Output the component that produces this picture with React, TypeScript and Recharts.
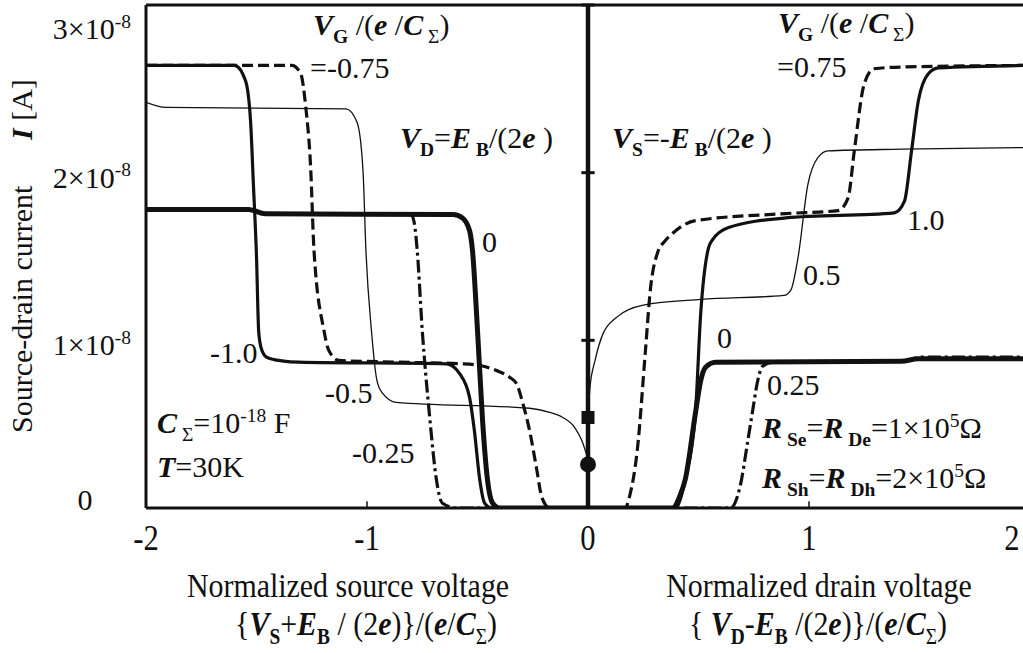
import React from 'react';
import { ComposedChart, Line, Scatter, XAxis, YAxis, ReferenceLine } from 'recharts';

type Pt = [number, number];

// x: normalized voltage, y: source-drain current in units of 1e-8 A
// left half: source voltage sweep, right half: drain voltage sweep
const vgMinus100: Pt[] = [[-2, 2.64], [-1.6, 2.64], [-1.55, 2.55], [-1.527, 2.31], [-1.514, 1.93], [-1.5, 1.5], [-1.49, 1.05], [-1.478, 0.95], [-1.455, 0.9], [-1.42, 0.885], [-1.386, 0.878], [-1.31, 0.87], [-0.64, 0.86], [-0.58, 0.8], [-0.536, 0.66], [-0.514, 0.46], [-0.49, 0.17], [-0.468, 0.03], [-0.436, 0], [0, 0]];
const vgMinus075: Pt[] = [[-2, 2.64], [-1.34, 2.64], [-1.3, 2.59], [-1.277, 2.39], [-1.255, 2.03], [-1.24, 1.54], [-1.195, 1.06], [-1.173, 0.94], [-1.127, 0.88], [-0.855, 0.87], [-0.568, 0.86], [-0.49, 0.85], [-0.414, 0.82], [-0.355, 0.78], [-0.323, 0.74], [-0.295, 0.625], [-0.264, 0.46], [-0.232, 0.23], [-0.209, 0.065], [-0.173, 0], [0, 0]];
const vgMinus050: Pt[] = [[-2, 2.42], [-1.91, 2.39], [-1.095, 2.38], [-1.045, 2.3], [-1.018, 2.01], [-1.005, 1.54], [-0.98, 1.06], [-0.955, 0.76], [-0.93, 0.685], [-0.868, 0.63], [-0.264, 0.595], [-0.173, 0.57], [-0.114, 0.54], [-0.06, 0.48], [-0.027, 0.4], [0, 0.29]];
const vgMinus025: Pt[] = [[-2, 1.78], [-1.536, 1.78], [-1.46, 1.755], [-0.8, 1.75], [-0.786, 1.7], [-0.773, 1.54], [-0.75, 1.06], [-0.718, 0.565], [-0.686, 0.17], [-0.66, 0.03], [-0.595, 0], [0, 0]];
const vgZeroLeft: Pt[] = [[-2, 1.78], [-1.536, 1.78], [-1.46, 1.755], [-0.61, 1.75], [-0.568, 1.73], [-0.536, 1.655], [-0.523, 1.54], [-0.5, 1.06], [-0.477, 0.52], [-0.455, 0.17], [-0.432, 0.03], [-0.4, 0], [0, 0]];

const vgPlus050: Pt[] = [[0, 0.54], [0.009, 0.72], [0.032, 0.88], [0.068, 1.04], [0.132, 1.14], [0.25, 1.21], [0.51, 1.244], [0.886, 1.268], [0.918, 1.3], [0.95, 1.49], [0.995, 1.93], [1.04, 2.09], [1.086, 2.13], [1.418, 2.14], [2, 2.15]];
const vgPlus075: Pt[] = [[0, 0], [0.168, 0], [0.19, 0.08], [0.223, 0.345], [0.26, 0.94], [0.282, 1.3], [0.314, 1.52], [0.35, 1.595], [0.382, 1.637], [0.486, 1.714], [0.895, 1.756], [1.132, 1.774], [1.177, 1.85], [1.205, 2.13], [1.25, 2.53], [1.295, 2.62], [1.418, 2.63], [2, 2.64]];
const vgPlus100: Pt[] = [[0, 0], [0.395, 0], [0.44, 0.17], [0.486, 0.565], [0.51, 1.16], [0.545, 1.55], [0.564, 1.6], [0.636, 1.673], [0.895, 1.73], [1.386, 1.76], [1.432, 1.83], [1.464, 2.13], [1.495, 2.43], [1.54, 2.59], [1.586, 2.625], [2, 2.64]];
const vgZeroRight: Pt[] = [[0, 0], [0.382, 0], [0.418, 0.08], [0.44, 0.17], [0.486, 0.565], [0.51, 0.76], [0.532, 0.84], [0.577, 0.87], [1.418, 0.875], [1.495, 0.89], [2, 0.89]];
const vgPlus025: Pt[] = [[0, 0], [0.645, 0], [0.69, 0.14], [0.723, 0.4], [0.745, 0.58], [0.768, 0.76], [0.79, 0.845], [0.836, 0.87], [1.418, 0.875], [1.51, 0.9], [2, 0.9]];

const xTicks = [-2, -1, 0, 1, 2];
const yTicks = [0, 1, 2, 3];
const bottomTickMarks = [-1, 1];
const centerTickMarks = [1, 2, 3];
const squareMark = [{ x: 0, y: 0.54 }];
const circleMark = [{ x: 0, y: 0.26 }];

const toRows = (pts: Pt[]) => pts.map(([x, y]) => ({ x, y }));

const serif = '"Liberation Serif", "Times New Roman", serif';

// line styles per gate voltage
const series = [
  { key: 'm050', pts: vgMinus050, width: 1.3, dash: undefined },
  { key: 'p050', pts: vgPlus050, width: 1.3, dash: undefined },
  { key: 'm025', pts: vgMinus025, width: 3.2, dash: '13 4 3 4' },
  { key: 'p025', pts: vgPlus025, width: 3.2, dash: '13 4 3 4' },
  { key: 'm075', pts: vgMinus075, width: 3.2, dash: '11 5' },
  { key: 'p075', pts: vgPlus075, width: 3.2, dash: '11 5' },
  { key: 'm100', pts: vgMinus100, width: 3.2, dash: undefined },
  { key: 'p100', pts: vgPlus100, width: 3.2, dash: undefined },
  { key: 'z0l', pts: vgZeroLeft, width: 5, dash: undefined },
  { key: 'z0r', pts: vgZeroRight, width: 5, dash: undefined },
];

type Kind = 'n' | 'bi' | 'bsub' | 'sub' | 'sup';
type Part = [string, Kind];

const Rich = ({ x, y, parts, size = 30, anchor = 'start', sx = 1, rotate = 0 }: {
  x: number; y: number; parts: Part[]; size?: number; anchor?: string; sx?: number; rotate?: number;
}) => {
  let shift = 0;
  return (
    <text
      transform={`translate(${x},${y}) rotate(${rotate}) scale(${sx},1)`}
      fontSize={size}
      fontFamily={serif}
      textAnchor={anchor as any}
      fill="#111"
      style={{ whiteSpace: 'pre' }}
    >
      {parts.map(([t, k], i) => {
        const target = k === 'sub' || k === 'bsub' ? size * 0.26 : k === 'sup' ? -size * 0.38 : 0;
        const dy = target - shift;
        shift = target;
        const small = k === 'sub' || k === 'bsub' || k === 'sup';
        return (
          <tspan
            key={i}
            dy={dy}
            fontSize={small ? size * 0.65 : size}
            fontWeight={k === 'bi' || k === 'bsub' ? 'bold' : 'normal'}
            fontStyle={k === 'bi' ? 'italic' : 'normal'}
          >
            {t}
          </tspan>
        );
      })}
    </text>
  );
};

const YTick = (props: any) => {
  const { y, payload } = props;
  const v = payload.value;
  if (v === 0) {
    return <text x={85} y={y + 2} textAnchor="middle" fontSize={30} fontFamily={serif} fill="#111">0</text>;
  }
  const dy = v === 3 ? 30 : 15;
  return <Rich x={131} y={y + dy} anchor="end" parts={[[`${v}×10`, 'n'], ['-8', 'sup']]} />;
};

const XTick = (props: any) => {
  const { x, payload } = props;
  const v = payload.value;
  const shift = v === 2 ? -18 : 0;
  return (
    <text transform={`translate(${x + shift},550) scale(0.85,1)`} textAnchor="middle" fontSize={36} fontFamily={serif} fill="#111">
      {`${v}`}
    </text>
  );
};

const vgLabel: Part[] = [['V', 'bi'], ['G', 'bsub'], [' /(', 'n'], ['e', 'bi'], [' /', 'n'], ['C', 'bi'], [' Σ', 'sub'], [')', 'n']];

export default function App() {
  return (
    <div style={{ position: 'absolute', left: 0, top: 0, width: 1023, height: 653, overflow: 'hidden', background: '#fff' }}>
      <ComposedChart width={1040} height={653} margin={{ top: 5, right: 10, bottom: 0, left: 0 }}>
        <XAxis
          type="number"
          dataKey="x"
          domain={[-2, 2]}
          ticks={xTicks}
          allowDataOverflow
          height={145}
          tickLine={false}
          axisLine={{ stroke: '#111', strokeWidth: 3 }}
          tick={(p: any) => <XTick {...p} />}
        />
        <YAxis
          type="number"
          dataKey="y"
          domain={[0, 3]}
          ticks={yTicks}
          allowDataOverflow
          width={146}
          tickLine={false}
          axisLine={{ stroke: '#111', strokeWidth: 3 }}
          tick={(p: any) => <YTick {...p} />}
        />
        <ReferenceLine y={3} stroke="#111" strokeWidth={3} />
        {bottomTickMarks.map((t) => (
          <ReferenceLine key={`bt${t}`} segment={[{ x: t, y: 0 }, { x: t, y: 0.04 }]} stroke="#111" strokeWidth={1.5} />
        ))}
        {series.map((s) => (
          <Line
            key={s.key}
            data={toRows(s.pts)}
            dataKey="y"
            type="monotone"
            stroke="#111"
            strokeWidth={s.width}
            strokeDasharray={s.dash}
            dot={false}
            activeDot={false}
            isAnimationActive={false}
          />
        ))}
        <ReferenceLine x={0} stroke="#111" strokeWidth={4.5} />
        {centerTickMarks.map((t) => (
          <ReferenceLine key={`ct${t}`} segment={[{ x: -0.03, y: t }, { x: 0.03, y: t }]} stroke="#111" strokeWidth={3} />
        ))}
        <Scatter
          data={squareMark}
          dataKey="y"
          isAnimationActive={false}
          shape={(p: any) => <rect x={p.cx - 6.5} y={p.cy - 6.5} width={13} height={13} fill="#111" />}
        />
        <Scatter
          data={circleMark}
          dataKey="y"
          isAnimationActive={false}
          shape={(p: any) => <circle cx={p.cx} cy={p.cy} r={8} fill="#111" />}
        />
      </ComposedChart>

      <svg width={1023} height={653} style={{ position: 'absolute', left: 0, top: 0, pointerEvents: 'none' }}>
        {/* y-axis title */}
        <Rich x={32} y={433} rotate={-90} parts={[['Source-drain current', 'n']]} />
        <Rich x={32} y={140} rotate={-90} parts={[['I', 'bi'], [' [A]', 'n']]} />

        {/* x-axis titles */}
        <Rich x={348} y={597} anchor="middle" size={34} sx={0.88} parts={[['Normalized source voltage', 'n']]} />
        <Rich
          x={366}
          y={635}
          anchor="middle"
          size={34}
          sx={0.88}
          parts={[['{', 'n'], ['V', 'bi'], ['S', 'bsub'], ['+', 'n'], ['E', 'bi'], ['B', 'bsub'], [' / (2', 'n'], ['e', 'bi'], [')}/(', 'n'], ['e', 'bi'], ['/', 'n'], ['C', 'bi'], ['Σ', 'sub'], [')', 'n']]}
        />
        <Rich x={819} y={597} anchor="middle" size={34} sx={0.88} parts={[['Normalized drain voltage', 'n']]} />
        <Rich
          x={818}
          y={635}
          anchor="middle"
          size={34}
          sx={0.88}
          parts={[['{ ', 'n'], ['V', 'bi'], ['D', 'bsub'], ['-', 'n'], ['E', 'bi'], ['B', 'bsub'], [' /(2', 'n'], ['e', 'bi'], [')}/(', 'n'], ['e', 'bi'], ['/', 'n'], ['C', 'bi'], ['Σ', 'sub'], [')', 'n']]}
        />

        {/* gate voltage headers */}
        <Rich x={313} y={35} parts={vgLabel} />
        <Rich x={310} y={78} parts={[['=-0.75', 'n']]} />
        <Rich x={778} y={33} parts={vgLabel} />
        <Rich x={777} y={77} parts={[['=0.75', 'n']]} />

        <Rich x={400} y={148} parts={[['V', 'bi'], ['D', 'bsub'], ['=', 'n'], ['E', 'bi'], [' B', 'bsub'], ['/(2', 'n'], ['e', 'bi'], [' )', 'n']]} />
        <Rich x={612} y={148} parts={[['V', 'bi'], ['S', 'bsub'], ['=-', 'n'], ['E', 'bi'], [' B', 'bsub'], ['/(2', 'n'], ['e', 'bi'], [' )', 'n']]} />

        {/* curve labels */}
        <Rich x={482} y={252} parts={[['0', 'n']]} />
        <Rich x={210} y={363} parts={[['-1.0', 'n']]} />
        <Rich x={325} y={403} parts={[['-0.5', 'n']]} />
        <Rich x={352} y={463} parts={[['-0.25', 'n']]} />
        <Rich x={907} y={230} parts={[['1.0', 'n']]} />
        <Rich x={803} y={285} parts={[['0.5', 'n']]} />
        <Rich x={717} y={348} parts={[['0', 'n']]} />
        <Rich x={767} y={395} parts={[['0.25', 'n']]} />

        {/* parameters */}
        <Rich x={157} y={433} parts={[['C', 'bi'], [' Σ', 'sub'], ['=10', 'n'], ['-18', 'sup'], [' F', 'n']]} />
        <Rich x={157} y={477} parts={[['T', 'bi'], ['=30K', 'n']]} />
        <Rich x={762} y={438} parts={[['R', 'bi'], [' Se', 'bsub'], ['=', 'n'], ['R', 'bi'], [' De', 'bsub'], ['=1×10', 'n'], ['5', 'sup'], ['Ω', 'n']]} />
        <Rich x={762} y={488} parts={[['R', 'bi'], [' Sh', 'bsub'], ['=', 'n'], ['R', 'bi'], [' Dh', 'bsub'], ['=2×10', 'n'], ['5', 'sup'], ['Ω', 'n']]} />
      </svg>
    </div>
  );
}
